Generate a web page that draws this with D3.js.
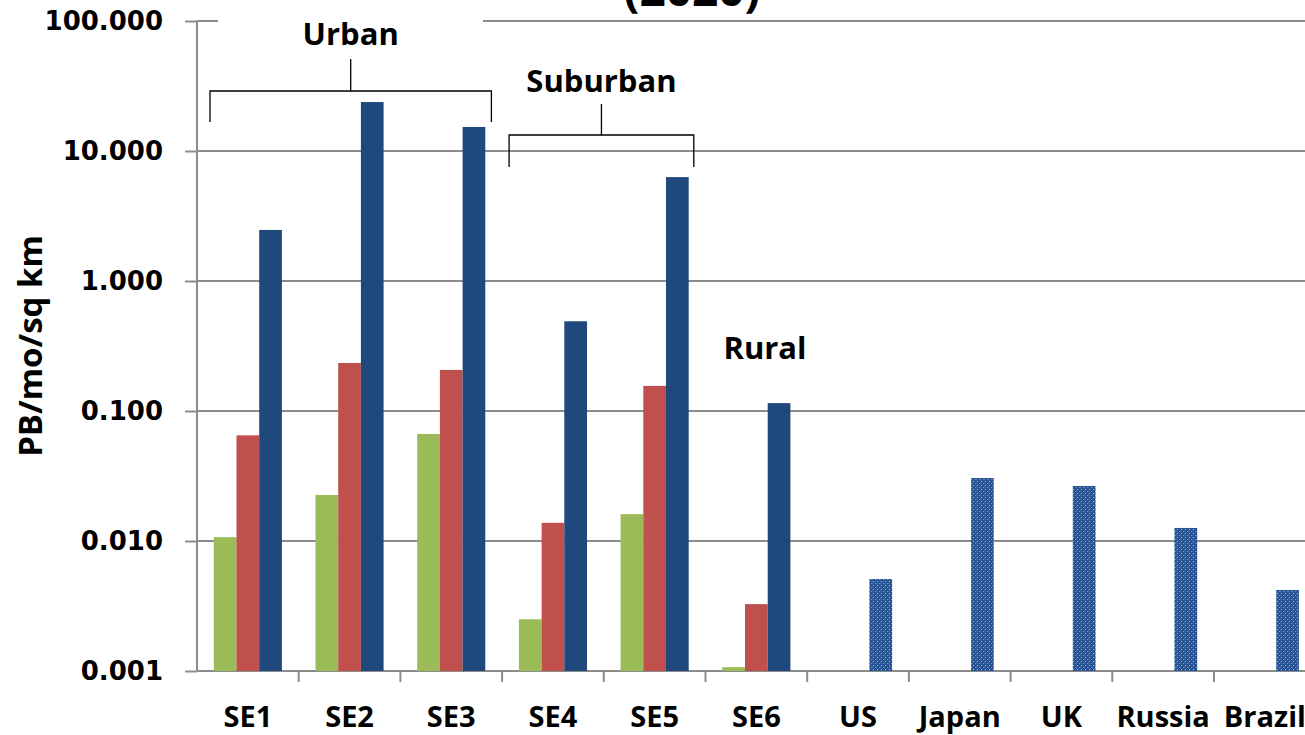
<!DOCTYPE html>
<html>
<head>
<meta charset="utf-8">
<script src="https://cdn.jsdelivr.net/npm/d3@7"></script>
<style>
  body { margin: 0; background: #fff; overflow: hidden; }
  text { font-family: "Open Sans", sans-serif; font-weight: bold; fill: #000; }
</style>
</head>
<body>
<script>
// categories and values
const categories = ["SE1", "SE2", "SE3", "SE4", "SE5", "SE6", "US", "Japan", "UK", "Russia", "Brazil"];
const series = ["low", "mid", "high"];
const lowValues = [0.0107, 0.0226, 0.0666, 0.0025, 0.0161, 0.00107];
const midValues = [0.065, 0.234, 0.207, 0.0138, 0.156, 0.00327];
const highValues = [2.47, 23.8, 15.3, 0.49, 6.3, 0.115];
const countries = ["US", "Japan", "UK", "Russia", "Brazil"];
const countryValues = [0.0051, 0.0305, 0.0265, 0.0126, 0.0042];
const yTicks = [0.001, 0.01, 0.1, 1, 10, 100];

const W = 1305, H = 735;
const plotLeft = 197, plotTop = 21, plotBottom = 671;
const step = 101.7;

const svg = d3.select("body").append("svg")
  .attr("width", W)
  .attr("height", H);

const defs = svg.append("defs");
const pat = defs.append("pattern")
  .attr("id", "dots")
  .attr("patternUnits", "userSpaceOnUse")
  .attr("width", 4)
  .attr("height", 4);
pat.append("rect").attr("width", 4).attr("height", 4).attr("fill", "#275392");
pat.append("rect").attr("x", 1).attr("y", 1).attr("width", 1).attr("height", 1).attr("fill", "#a9c3e6");
pat.append("rect").attr("x", 3).attr("y", 3).attr("width", 1).attr("height", 1).attr("fill", "#6f93c4");
pat.append("rect").attr("x", 0).attr("y", 3).attr("width", 1).attr("height", 1).attr("fill", "#4b73ab");

const x = d3.scaleBand()
  .domain(categories)
  .range([plotLeft, plotLeft + step * categories.length]);

const x1 = d3.scaleBand()
  .domain(series)
  .range([0, x.bandwidth()])
  .paddingInner(0)
  .paddingOuter(0.74);

const y = d3.scaleLog()
  .domain([0.001, 100])
  .range([plotBottom, plotTop]);

const colors = { low: "#9bbb59", mid: "#c0504d", high: "#1f497d" };

// gridlines
svg.append("g")
  .selectAll("line")
  .data(yTicks.slice(1))
  .enter()
  .append("line")
  .attr("x1", plotLeft)
  .attr("x2", W)
  .attr("y1", (d) => y(d))
  .attr("y2", (d) => y(d))
  .attr("stroke", "#8c8c8c")
  .attr("stroke-width", 2);

// white box where the title sits over the top gridline
svg.append("rect")
  .attr("x", 218)
  .attr("y", 14)
  .attr("width", 265)
  .attr("height", 14)
  .attr("fill", "#fff");

// y axis
const yAxis = svg.append("g")
  .attr("transform", `translate(${plotLeft},0)`)
  .call(d3.axisLeft(y).tickValues(yTicks).tickSize(12).tickPadding(22).tickFormat(d3.format(".3f")));
yAxis.select(".domain").attr("stroke", "#8c8c8c").attr("stroke-width", 2).attr("d", `M0,${plotTop}V${plotBottom}`);
yAxis.selectAll(".tick line").attr("stroke", "#8c8c8c").attr("stroke-width", 2);
yAxis.selectAll(".tick text")
  .style("font-family", "'DejaVu Sans', sans-serif")
  .style("font-weight", "bold")
  .style("font-size", "26px")
  .attr("fill", "#000");

// x axis
const xAxis = svg.append("g")
  .attr("transform", `translate(0,${plotBottom})`)
  .call(d3.axisBottom(x).tickSize(0).tickPadding(35));
xAxis.select(".domain").attr("stroke", "#8c8c8c").attr("stroke-width", 2).attr("d", `M${plotLeft},0H${W}`);
xAxis.selectAll(".tick text")
  .style("font-family", "'Open Sans', sans-serif")
  .style("font-weight", "bold")
  .style("font-size", "29px")
  .attr("fill", "#000");
svg.append("g")
  .selectAll("line")
  .data(categories)
  .enter()
  .append("line")
  .attr("x1", (d) => x(d) + x.bandwidth())
  .attr("x2", (d) => x(d) + x.bandwidth())
  .attr("y1", plotBottom)
  .attr("y2", plotBottom + 11)
  .attr("stroke", "#8c8c8c")
  .attr("stroke-width", 2);

// grouped bars for SE1..SE6
const seData = [];
categories.slice(0, 6).forEach((c, i) => {
  seData.push({ cat: c, s: "low", v: lowValues[i] });
  seData.push({ cat: c, s: "mid", v: midValues[i] });
  seData.push({ cat: c, s: "high", v: highValues[i] });
});

svg.append("g")
  .selectAll("rect")
  .data(seData)
  .enter()
  .append("rect")
  .attr("x", (d) => x(d.cat) + x1(d.s))
  .attr("y", (d) => y(d.v))
  .attr("width", x1.bandwidth())
  .attr("height", (d) => plotBottom - y(d.v))
  .attr("fill", (d) => colors[d.s]);

// country bars, dotted fill
svg.append("g")
  .selectAll("rect")
  .data(countries.map((c, i) => ({ cat: c, v: countryValues[i] })))
  .enter()
  .append("rect")
  .attr("x", (d) => x(d.cat) + x1("high"))
  .attr("y", (d) => y(d.v))
  .attr("width", x1.bandwidth())
  .attr("height", (d) => plotBottom - y(d.v))
  .attr("fill", "url(#dots)");

// y label
svg.append("text")
  .attr("transform", "translate(42,346) rotate(-90)")
  .attr("text-anchor", "middle")
  .style("font-size", "33px")
  .text("PB/mo/sq km");

// title (cut off at top)
svg.append("text")
  .attr("x", 692)
  .attr("y", 6)
  .attr("text-anchor", "middle")
  .style("font-size", "46px")
  .text("(2020)");

// brackets
function bracket(x0, x2, yTop, yBot, yStem, label, labelY) {
  const g = svg.append("g").attr("fill", "none").attr("stroke", "#000").attr("stroke-width", 1.3);
  const mid = (x0 + x2) / 2;
  g.append("path").attr("d", `M${x0},${yBot}V${yTop}H${x2}V${yBot}M${mid},${yTop}V${yStem}`);
  svg.append("text")
    .attr("x", mid)
    .attr("y", labelY)
    .attr("text-anchor", "middle")
    .style("font-size", "31px")
    .text(label);
}
bracket(x("SE1") + 13, x("SE3") + 91, 91, 122, 59, "Urban", 45);
bracket(x("SE4") + 7, x("SE5") + 90, 135, 167, 104, "Suburban", 92);

svg.append("text")
  .attr("x", 765)
  .attr("y", 359)
  .attr("text-anchor", "middle")
  .style("font-size", "31px")
  .text("Rural");
</script>
</body>
</html>
